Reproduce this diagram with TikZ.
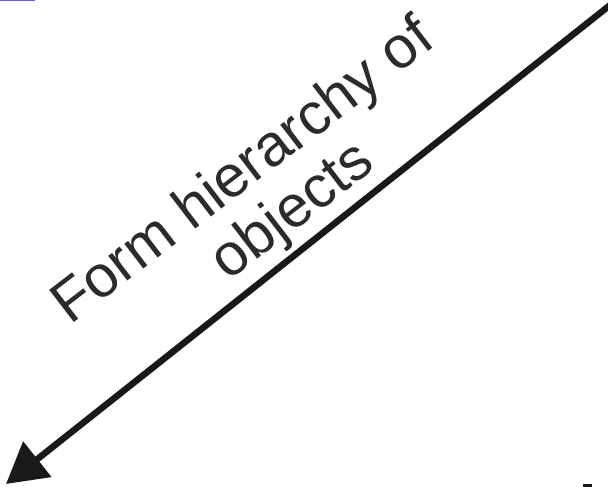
\documentclass[tikz,border=0pt]{standalone}
\usepackage{fontspec}
\setmainfont{Liberation Sans}
\usetikzlibrary{arrows.meta, positioning}
\definecolor{hink}{RGB}{26, 24, 24}
\definecolor{htext}{RGB}{45, 42, 44}
\definecolor{hbar}{RGB}{104, 96, 200}

\begin{document}
\begin{tikzpicture}[x=1pt, y=1pt,
  lbl/.style={align=center, text=htext, inner sep=0pt,
              font=\fontsize{59}{61}\selectfont, rotate=37.5},
  arr/.style={-{Triangle[length=40pt, width=44pt]}, line width=6.5pt, hink}
]
\useasboundingbox (0,0) rectangle (608,487);
\clip (0,0) rectangle (608,487);

% bits cut off at the page edges
\fill[hbar] (0,485.5) rectangle (35,487);
\fill[hink] (583,0) rectangle (592,3);

\coordinate (top) at (614,485);
\coordinate (tip) at (6,3);

\draw[arr] (top) -- (tip);

\node[lbl] (hier) at (263,290)
  {Form hierarchy of\\\hspace*{30pt}objects};

\end{tikzpicture}
\end{document}
